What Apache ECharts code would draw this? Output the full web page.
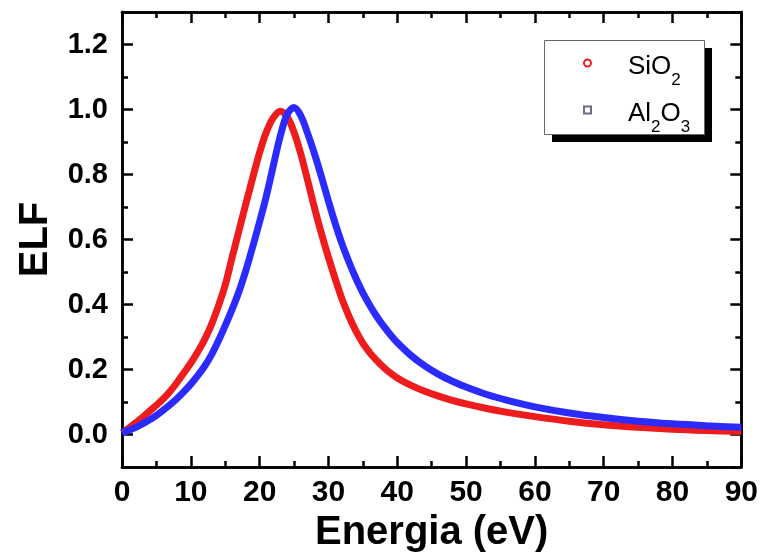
<!DOCTYPE html>
<html>
<head>
<meta charset="utf-8">
<script src="https://cdn.jsdelivr.net/npm/echarts@6/dist/echarts.min.js"></script>
<style>html,body{margin:0;padding:0;background:#fff}#c{width:761px;height:558px}</style>
</head>
<body>
<div id="c"></div>
<script>
// Energies (eV) at which values were read
const energies = [0,1,2,3,4,5,6,7,8,9,10,11,12,13,14,15,16,17,18,19,20,21,22,23,24,25,26,27,28,29,30,31,32,33,34,35,36,37,38,39,40,42,44,46,48,50,53,56,60,65,70,75,80,85,90];
const sio2 = [0.005,0.02,0.036,0.053,0.072,0.09,0.11,0.133,0.16,0.19,0.22,0.254,0.292,0.338,0.395,0.46,0.545,0.627,0.71,0.79,0.868,0.932,0.975,0.995,0.978,0.93,0.862,0.78,0.695,0.617,0.545,0.478,0.415,0.363,0.318,0.281,0.252,0.228,0.207,0.189,0.174,0.151,0.133,0.118,0.105,0.094,0.08,0.068,0.055,0.041,0.030,0.022,0.016,0.012,0.009];
const al2o3 = [0.005,0.013,0.022,0.033,0.045,0.059,0.075,0.092,0.111,0.132,0.155,0.181,0.21,0.245,0.288,0.335,0.385,0.44,0.505,0.578,0.655,0.736,0.828,0.918,0.985,1.006,0.98,0.925,0.862,0.792,0.718,0.648,0.585,0.53,0.48,0.436,0.398,0.364,0.334,0.307,0.283,0.243,0.211,0.185,0.164,0.146,0.123,0.105,0.085,0.066,0.052,0.041,0.033,0.027,0.022];
const seriesNames = ['SiO2', 'Al2O3'];
const xTitle = 'Energia (eV)';
const yTitle = 'ELF';

const RED = '#ee1c1c', BLUE = '#2b2bff';
const FONT = 'Liberation Sans, Arial, sans-serif';
const zip = (xs, ys) => xs.map((x, i) => [x, ys[i]]);

const chart = echarts.init(document.getElementById('c'), null, {renderer: 'canvas'});
const lineW = 2.5;
const axLine = {show: true, onZero: false, lineStyle: {color: '#000', width: lineW}};
function xAx(pos, interval, len, labels) {
  return {
    type: 'value', position: pos, min: 0, max: 90, interval: interval,
    axisLine: axLine, splitLine: {show: false},
    axisTick: {show: true, inside: true, length: len, lineStyle: {color: '#000', width: lineW}},
    axisLabel: labels ? {show: true, margin: 11, fontSize: 30, fontWeight: 'bold', color: '#000', fontFamily: FONT} : {show: false}
  };
}
function yAx(pos, minor, len, labels) {
  const a = {
    type: 'value', position: pos, min: -0.1, max: 1.3,
    axisLine: axLine, splitLine: {show: false},
    axisTick: {show: true, inside: true, length: len, lineStyle: {color: '#000', width: lineW}},
    axisLabel: labels ? {show: true, margin: 14, fontSize: 29, fontWeight: 'bold', color: '#000', fontFamily: FONT,
      showMinLabel: false, showMaxLabel: false, formatter: v => v.toFixed(1)} : {show: false}
  };
  if (minor) a.interval = 0.1; else a.splitNumber = 7;
  return a;
}
const xAxes = [xAx('bottom', 10, 11, true), xAx('bottom', 5, 6, false), xAx('top', 10, 11, false), xAx('top', 5, 6, false)];
Object.assign(xAxes[0], {name: xTitle, nameLocation: 'middle', nameGap: 46,
  nameTextStyle: {fontSize: 40, fontWeight: 'bold', color: '#000', fontFamily: FONT}});
const yAxes = [yAx('left', false, 11, true), yAx('left', true, 6, false), yAx('right', false, 11, false), yAx('right', true, 6, false)];
Object.assign(yAxes[0], {name: yTitle, nameLocation: 'middle', nameGap: 66,
  nameTextStyle: {fontSize: 40, fontWeight: 'bold', color: '#000', fontFamily: FONT}});

const option = {
  backgroundColor: '#fff',
  animation: false,
  grid: {left: 122, right: 18, top: 12, bottom: 90, containLabel: false},
  xAxis: xAxes,
  yAxis: yAxes,
  graphic: [{
    type: 'group', z: 1,
    children: [
      {type: 'rect', shape: {x: 552, y: 48, width: 160, height: 94}, style: {fill: '#000'}},
      {type: 'rect', shape: {x: 544.5, y: 40.5, width: 160, height: 94}, style: {fill: '#fff', stroke: '#666', lineWidth: 1}}
    ]
  }],
  legend: {
    orient: 'vertical', left: 583, top: 54, padding: 0, itemGap: 12,
    itemWidth: 7, itemHeight: 7, z: 10,
    data: [
      {name: seriesNames[0], icon: 'emptyCircle', itemStyle: {color: RED, borderColor: RED, borderWidth: 1.6}},
      {name: seriesNames[1], icon: 'emptyRect', itemStyle: {color: '#6a6a8a', borderColor: '#6a6a8a', borderWidth: 1.3}}
    ],
    formatter: n => n === 'SiO2' ? '{a|SiO}{b|2}' : '{a|Al}{b|2}{a|O}{b|3}',
    textStyle: {
      padding: [8, 0, 0, 32],
      rich: {
        a: {fontSize: 26, lineHeight: 26, verticalAlign: 'top', color: '#000', fontFamily: FONT},
        b: {fontSize: 17, lineHeight: 18, padding: [18, 0, 0, 0], verticalAlign: 'top', color: '#000', fontFamily: FONT}
      }
    }
  },
  series: [
    {name: seriesNames[0], type: 'line', xAxisIndex: 0, yAxisIndex: 0, data: zip(energies, sio2),
     showSymbol: false, symbol: 'none', smooth: 0.35, color: RED, lineStyle: {width: 7, color: RED}, z: 2},
    {name: seriesNames[1], type: 'line', xAxisIndex: 0, yAxisIndex: 0, data: zip(energies, al2o3),
     showSymbol: false, symbol: 'none', smooth: 0.35, color: BLUE, lineStyle: {width: 7, color: BLUE}, z: 3}
  ]
};
chart.setOption(option);
</script>
</body>
</html>
